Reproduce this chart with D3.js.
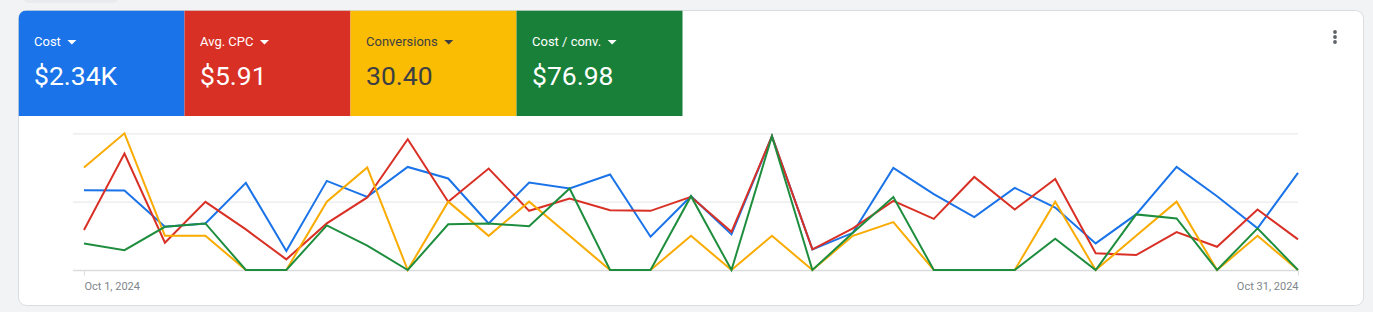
<!DOCTYPE html>
<html>
<head>
<meta charset="utf-8">
<script src="https://cdn.jsdelivr.net/npm/d3@7"></script>
<style>
  html, body { margin: 0; padding: 0; background: #f1f3f4; }
  svg { display: block; font-family: Roboto, "Noto Sans", sans-serif; }
</style>
</head>
<body>
<svg id="chart" width="1373" height="312"></svg>
<script>
// days of October 2024
var days = d3.range(1, 32);

// daily cost ($)
var costValues = [87.6, 87.3, 47.4, 51.1, 95.6, 20.8, 97.8, 80.3, 113.1, 100.4, 51.1, 96.0, 89.5, 104.8, 36.5, 81.0,
  39.1, 146.7, 22.7, 40.8, 112.0, 83.2, 58.0, 90.1, 68.6, 29.2, 61.0, 113.1, 81.0, 45.7, 106.5];
// avg. CPC ($)
var cpcValues = [4.09, 11.93, 2.79, 6.98, 4.16, 1.09, 4.77, 7.43, 13.39, 6.98, 10.39, 6.06, 7.33, 6.13, 6.06, 7.49,
  3.91, 13.69, 2.12, 4.26, 7.08, 5.24, 9.53, 6.20, 9.33, 1.71, 1.53, 3.88, 2.38, 6.20, 3.14];
// conversions
var convValues = [3, 4, 1, 1, 0, 0, 2, 3, 0, 2, 1, 2, 1, 0, 0, 1, 0, 1, 0, 1, 1.4, 0, 0, 0, 2, 0, 1, 2, 0, 1, 0];
// cost / conv. ($)
var costPerConvValues = [29.2, 21.8, 47.4, 51.1, 0, 0, 48.9, 26.8, 0, 50.2, 51.1, 48.0, 89.5, 0, 0, 81.0,
  0, 146.7, 0, 40.8, 80.0, 0, 0, 0, 34.3, 0, 61.0, 56.6, 0, 45.7, 0];

var tileLabels = ['Cost', 'Avg. CPC', 'Conversions', 'Cost / conv.'];
var tileTotals = ['$2.34K', '$5.91', '30.40', '$76.98'];

var series = [
  { name: 'Cost', values: costValues, max: 150, tile: '#1a73e8', line: '#1a73e8', text: '#fff' },
  { name: 'Avg. CPC', values: cpcValues, max: 14, tile: '#d93025', line: '#d93025', text: '#fff' },
  { name: 'Conversions', values: convValues, max: 4, tile: '#fbbc04', line: '#f9ab00', text: '#3c4043' },
  { name: 'Cost / conv.', values: costPerConvValues, max: 150, tile: '#188038', line: '#1e8e3e', text: '#fff' }
];

var svg = d3.select('#chart');

var card = { x: 18.5, y: 10.5, w: 1345, h: 295, r: 8 };

// faint shape peeking above the card
svg.append('rect')
  .attr('x', 24).attr('y', -8).attr('width', 94).attr('height', 11).attr('rx', 5)
  .attr('fill', '#e9ebee');

svg.append('clipPath').attr('id', 'card-clip')
  .append('rect')
  .attr('x', card.x).attr('y', card.y).attr('width', card.w).attr('height', card.h).attr('rx', card.r);

svg.append('rect')
  .attr('x', card.x).attr('y', card.y).attr('width', card.w).attr('height', card.h).attr('rx', card.r)
  .attr('fill', '#fff').attr('stroke', '#dadce0');

// metric tiles
var tileW = 166;
var tiles = svg.append('g').attr('clip-path', 'url(#card-clip)')
  .selectAll('.tile').data(series).enter().append('g')
  .attr('class', 'tile')
  .attr('transform', function (d, i) { return 'translate(' + (card.x + i * tileW) + ',' + card.y + ')'; });

tiles.append('rect')
  .attr('x', 0).attr('y', 0).attr('width', tileW).attr('height', 105.5)
  .attr('fill', function (d) { return d.tile; });

tiles.append('text')
  .attr('class', 'label')
  .attr('x', 15.5).attr('y', 35.3)
  .attr('font-size', 13).attr('font-weight', 400)
  .attr('fill', function (d) { return d.text; })
  .text(function (d, i) { return tileLabels[i]; });

tiles.each(function (d) {
  var g = d3.select(this);
  var w = g.select('.label').node().getComputedTextLength();
  var x0 = 15.5 + w + 6.5;
  g.append('path')
    .attr('d', 'M' + x0 + ',29.5 L' + (x0 + 9) + ',29.5 L' + (x0 + 4.5) + ',34 Z')
    .attr('fill', d.text);
});

tiles.append('text')
  .attr('x', 15.5).attr('y', 74.5)
  .attr('font-size', 26.5)
  .attr('fill', function (d) { return d.text; })
  .text(function (d, i) { return tileTotals[i]; });

// kebab menu
svg.append('g').selectAll('circle').data([32, 37, 42]).enter().append('circle')
  .attr('cx', 1335).attr('cy', function (d) { return d; }).attr('r', 1.9)
  .attr('fill', '#5f6368');

// chart area
var x = d3.scaleTime()
  .domain([new Date(2024, 9, 1), new Date(2024, 9, 31)])
  .range([84, 1298]);

var gridScale = d3.scaleLinear().domain([0, 150]).range([270, 133.3]);

var grid = svg.append('g')
  .attr('transform', 'translate(73,0)')
  .call(d3.axisLeft(gridScale).tickValues([0, 75, 150]).tickSize(-1225).tickFormat(''));
grid.select('.domain').remove();
grid.selectAll('.tick line').attr('stroke', '#e8eaed').attr('stroke-width', 1.2);
grid.selectAll('.tick').filter(function (d) { return d === 0; }).select('line')
  .attr('stroke', '#dadce0').attr('stroke-width', 1.5);

var xAxis = svg.append('g')
  .attr('transform', 'translate(0,270.5)')
  .call(d3.axisBottom(x)
    .tickValues([new Date(2024, 9, 1), new Date(2024, 9, 31)])
    .tickSize(5).tickPadding(7)
    .tickFormat(d3.timeFormat('%b %-d, %Y')));
xAxis.select('.domain').remove();
xAxis.selectAll('.tick line').attr('stroke', '#dadce0');
xAxis.selectAll('.tick text')
  .attr('fill', '#80868b').attr('font-size', 11).attr('font-family', 'Roboto, sans-serif')
  .attr('text-anchor', function (d, i) { return i === 0 ? 'start' : 'end'; });

var lines = svg.append('g').attr('class', 'lines');
series.forEach(function (s) {
  var y = d3.scaleLinear().domain([0, s.max]).range([270, 133.3]);
  var line = d3.line()
    .x(function (v, i) { return x(new Date(2024, 9, days[i])); })
    .y(function (v) { return y(v); });
  lines.append('path')
    .datum(s.values)
    .attr('d', line)
    .attr('fill', 'none')
    .attr('stroke', s.line)
    .attr('stroke-width', 2)
    .attr('stroke-linejoin', 'miter');
});
</script>
</body>
</html>
